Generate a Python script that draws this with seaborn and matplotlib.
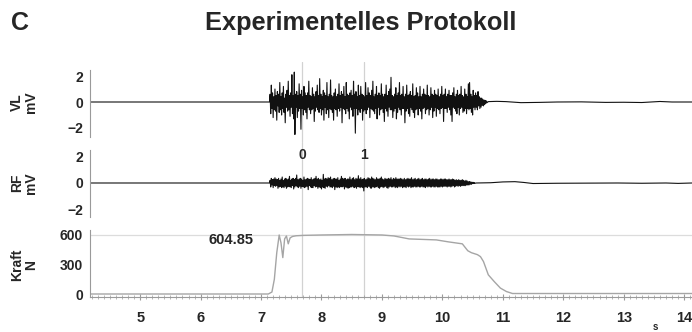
import numpy as np
import pandas as pd
import matplotlib
matplotlib.use("Agg")
import matplotlib.pyplot as plt
import seaborn as sns
from matplotlib.ticker import MultipleLocator, FixedLocator

# ---------------- data ----------------
title = "Experimentelles Protokoll"
panel_letter = "C"
x_ticks = [5, 6, 7, 8, 9, 10, 11, 12, 13, 14]
marker_times = [7.68, 8.70]
marker_labels = ["0", "1"]
peak_label = "604.85"
peak_value = 600

sample_step = 0.01

# VL (mV)
vl_pre_t = [4.17, 7.14]
vl_pre_v = [0.0, 0.0]
vl_burst_start = 7.15
vl_burst = [
    0.6, -0.9, 1.3, -0.5, 0.7, -1.2, 0.4, -0.6, 1.0, -0.7,
    0.5, -1.4, 0.8, -0.3, 0.6, -0.8, 1.5, -0.6, 0.4, -1.0,
    0.7, -0.5, 1.2, -0.8, 0.3, -1.6, 0.6, -0.4, 0.9, -0.7,
    1.6, -0.6, 0.5, -1.1, 0.7, -0.4, 2.1, -0.9, 0.5, -1.3,
    2.3, -2.5, 0.6, -0.4, 0.8, -1.2, 0.5, -0.7, 1.4, -0.5,
    0.6, -2.1, 0.9, -0.5, 0.4, -1.0, 1.2, -0.6, 0.7, -0.8,
    0.5, -1.3, 0.7, -0.4, 1.6, -0.6, 0.5, -0.9, 0.4, -0.6,
    1.1, -0.5, 0.6, -1.5, 0.4, -0.7, 0.8, -0.4, 1.3, -0.6,
    0.5, -0.8, 1.8, -0.5, 0.6, -1.0, 0.4, -0.6, 0.9, -1.4,
    0.7, -0.4, 0.5, -0.9, 1.5, -0.6, 0.4, -1.2, 0.6, -0.5,
    1.7, -0.6, 0.5, -0.8, 0.4, -1.4, 0.7, -0.5, 1.0, -0.6,
    0.4, -1.1, 0.6, -0.5, 1.4, -0.7, 0.5, -0.4, 0.8, -1.6,
    0.6, -0.5, 1.2, -0.6, 0.4, -0.9, 1.5, -0.5, 0.6, -0.7,
    0.5, -1.3, 0.7, -0.4, 0.9, -0.6, 0.5, -1.1, 1.6, -0.5,
    0.6, -2.4, 0.8, -0.5, 0.4, -1.0, 1.3, -0.6, 0.5, -0.8,
    1.2, -0.5, 0.6, -1.4, 0.5, -0.7, 0.4, -0.6, 1.5, -0.9,
    0.5, -0.6, 1.1, -0.4, 0.7, -1.2, 0.5, -0.5, 0.9, -0.6,
    1.6, -0.7, 0.4, -0.9, 0.6, -0.5, 1.2, -1.3, 0.5, -0.4,
    0.7, -1.0, 0.5, -0.6, 1.4, -0.5, 0.6, -0.8, 0.4, -1.5,
    0.6, -0.5, 1.3, -0.7, 0.5, -1.1, 0.8, -0.4, 1.0, -0.6,
    1.9, -0.6, 0.5, -1.2, 0.4, -0.7, 0.6, -0.5, 1.1, -1.3,
    0.5, -0.8, 0.7, -0.4, 1.5, -0.6, 0.5, -1.0, 0.6, -0.5,
    1.2, -0.5, 0.4, -1.6, 0.6, -0.7, 1.3, -0.5, 0.5, -0.9,
    0.6, -1.1, 0.8, -0.4, 0.5, -0.6, 1.4, -0.8, 0.4, -1.2,
    0.5, -0.6, 1.1, -0.5, 0.7, -1.0, 0.4, -0.5, 1.2, -0.7,
    0.4, -1.3, 0.6, -0.5, 1.0, -0.4, 0.6, -0.9, 0.5, -0.6,
    1.3, -0.5, 0.5, -1.0, 0.4, -0.6, 1.1, -0.4, 0.6, -1.2,
    0.5, -0.7, 0.9, -0.4, 0.6, -1.1, 0.5, -0.5, 1.0, -0.6,
    0.4, -0.9, 0.6, -0.5, 1.2, -0.4, 0.5, -1.5, 0.6, -0.5,
    1.0, -0.5, 0.4, -0.8, 0.6, -0.4, 0.9, -0.6, 0.5, -1.0,
    0.5, -1.5, 0.7, -0.4, 1.1, -0.5, 0.4, -0.7, 0.6, -0.9,
    0.9, -0.4, 0.5, -1.0, 0.6, -0.5, 1.2, -0.4, 0.5, -0.8,
    0.4, -0.7, 1.0, -0.5, 0.6, -0.9, 0.4, -0.5, 1.4, -0.6,
    1.5, -0.5, 0.6, -0.8, 0.4, -1.0, 0.9, -0.4, 0.5, -0.6,
    0.7, -0.4, 0.5, -0.6, 0.8, -0.3, 0.4, -0.5, 0.3, -0.4,
    0.3, -0.25, 0.2, -0.3, 0.15, -0.2, 0.12, -0.1, 0.08, -0.05,
]
vl_tail_t = [10.76, 10.9, 11.05, 11.3, 11.6, 11.9, 12.3, 12.7, 13.0, 13.3, 13.6, 13.8, 14.13]
vl_tail_v = [0.03, 0.05, 0.03, -0.05, -0.03, 0.0, 0.01, -0.03, -0.02, -0.04, 0.04, 0.0, 0.0]

# RF (mV)
rf_pre_t = [4.17, 7.14]
rf_pre_v = [0.0, 0.0]
rf_burst_start = 7.15
rf_burst = [
    0.2, -0.3, 0.35, -0.15, 0.25, -0.35, 0.3, -0.2, 0.4, -0.25,
    0.3, -0.2, 0.25, -0.4, 0.35, -0.3, 0.2, -0.25, 0.3, -0.35,
    0.45, -0.3, 0.2, -0.35, 0.3, -0.25, 0.35, -0.4, 0.25, -0.3,
    0.3, -0.25, 0.5, -0.3, 0.2, -0.35, 0.3, -0.2, 0.35, -0.45,
    0.25, -0.3, 0.35, -0.2, 0.6, -0.3, 0.25, -0.35, 0.3, -0.25,
    0.35, -0.4, 0.3, -0.25, 0.2, -0.3, 0.45, -0.35, 0.25, -0.3,
    0.3, -0.25, 0.35, -0.5, 0.3, -0.2, 0.25, -0.3, 0.4, -0.35,
    0.25, -0.35, 0.3, -0.2, 0.35, -0.3, 0.5, -0.25, 0.3, -0.4,
    0.35, -0.3, 0.25, -0.35, 0.3, -0.45, 0.2, -0.3, 0.65, -0.35,
    0.3, -0.4, 0.35, -0.25, 0.3, -0.3, 0.4, -0.2, 0.35, -0.3,
    0.45, -0.3, 0.25, -0.35, 0.3, -0.25, 0.35, -0.5, 0.3, -0.3,
    0.3, -0.35, 0.4, -0.3, 0.2, -0.35, 0.3, -0.25, 0.5, -0.3,
    0.35, -0.25, 0.3, -0.45, 0.35, -0.3, 0.25, -0.35, 0.3, -0.4,
    0.3, -0.35, 0.45, -0.3, 0.25, -0.3, 0.35, -0.25, 0.4, -0.35,
    0.25, -0.3, 0.35, -0.4, 0.3, -0.25, 0.55, -0.3, 0.3, -0.35,
    0.4, -0.3, 0.25, -0.35, 0.3, -0.6, 0.35, -0.3, 0.25, -0.3,
    0.3, -0.35, 0.4, -0.25, 0.35, -0.3, 0.3, -0.4, 0.45, -0.3,
    0.35, -0.3, 0.3, -0.35, 0.25, -0.3, 0.4, -0.25, 0.3, -0.35,
    0.3, -0.4, 0.35, -0.3, 0.45, -0.25, 0.3, -0.35, 0.25, -0.3,
    0.35, -0.25, 0.3, -0.35, 0.3, -0.4, 0.35, -0.3, 0.3, -0.25,
    0.4, -0.3, 0.25, -0.3, 0.35, -0.25, 0.3, -0.35, 0.4, -0.3,
    0.3, -0.35, 0.3, -0.25, 0.3, -0.3, 0.35, -0.25, 0.3, -0.35,
    0.25, -0.3, 0.35, -0.3, 0.25, -0.35, 0.3, -0.25, 0.35, -0.3,
    0.3, -0.25, 0.3, -0.35, 0.4, -0.3, 0.25, -0.3, 0.3, -0.25,
    0.35, -0.3, 0.25, -0.3, 0.3, -0.25, 0.35, -0.3, 0.25, -0.3,
    0.3, -0.25, 0.35, -0.3, 0.25, -0.3, 0.3, -0.35, 0.3, -0.25,
    0.25, -0.3, 0.3, -0.25, 0.35, -0.3, 0.25, -0.3, 0.3, -0.25,
    0.3, -0.3, 0.25, -0.3, 0.3, -0.25, 0.3, -0.3, 0.25, -0.3,
    0.25, -0.3, 0.3, -0.25, 0.3, -0.3, 0.25, -0.25, 0.3, -0.25,
    0.3, -0.25, 0.25, -0.3, 0.25, -0.25, 0.3, -0.25, 0.25, -0.3,
    0.25, -0.25, 0.3, -0.2, 0.25, -0.3, 0.2, -0.25, 0.25, -0.2,
    0.2, -0.25, 0.25, -0.2, 0.2, -0.25, 0.2, -0.2, 0.25, -0.2,
    0.2, -0.2, 0.15, -0.2, 0.2, -0.15, 0.15, -0.15, 0.1, -0.15,
    0.1, -0.1, 0.08, -0.1, 0.06, -0.05, 0.05, -0.04, 0.03, -0.02,
]
rf_tail_t = [10.56, 10.8, 11.0, 11.2, 11.35, 11.5, 11.9, 12.4, 12.9, 13.3, 13.7, 13.9, 14.13]
rf_tail_v = [0.0, 0.02, 0.08, 0.1, 0.04, -0.04, -0.02, -0.01, 0.0, -0.02, 0.0, -0.03, 0.0]

# Kraft (N)
kraft_t = [4.17, 7.12, 7.18, 7.22, 7.26, 7.30, 7.33, 7.36, 7.39, 7.42, 7.45, 7.48,
           7.52, 7.58, 7.7, 8.0, 8.5, 9.0, 9.2, 9.45, 9.9, 10.1, 10.33, 10.42,
           10.48, 10.58, 10.63, 10.68, 10.76, 10.86, 10.96, 11.06, 11.16, 14.13]
kraft_v = [0, 0, 20, 150, 420, 600, 520, 370, 560, 590, 510, 570,
           585, 592, 596, 600, 605, 600, 590, 560, 550, 530, 510, 440,
           420, 400, 380, 330, 195, 125, 60, 25, 5, 5]

# ---------------- assemble ----------------
def build(pre_t, pre_v, start, burst, tail_t, tail_v):
    bt = start + sample_step * np.arange(len(burst))
    t = np.concatenate([pre_t, bt, tail_t])
    v = np.concatenate([pre_v, burst, tail_v])
    return pd.DataFrame({"t": t, "v": v})

vl_df = build(vl_pre_t, vl_pre_v, vl_burst_start, vl_burst, vl_tail_t, vl_tail_v)
rf_df = build(rf_pre_t, rf_pre_v, rf_burst_start, rf_burst, rf_tail_t, rf_tail_v)
kraft_df = pd.DataFrame({"t": kraft_t, "v": kraft_v})

sns.set_style("white")
plt.rcParams["font.family"] = ["Liberation Sans", "DejaVu Sans"]
plt.rcParams["font.weight"] = "bold"

W, H = 692, 332
fig = plt.figure(figsize=(W / 100, H / 100), dpi=100)

def fx(px):
    return px / W

def fy(py):
    return 1 - py / H

left = fx(90)
width = 1 - left
XL = (4.17, 14.13)
spine_col = "#9a9a9a"

ax_vl = fig.add_axes([left, fy(142), width, (142 - 62) / H])
ax_rf = fig.add_axes([left, fy(222), width, (222 - 142) / H])
ax_kr = fig.add_axes([left, fy(297), width, (297 - 222) / H])

sns.lineplot(data=vl_df, x="t", y="v", ax=ax_vl, color="#111111", lw=0.8,
             estimator=None, sort=False)
sns.lineplot(data=rf_df, x="t", y="v", ax=ax_rf, color="#111111", lw=0.8,
             estimator=None, sort=False)
ax_kr.axhline(peak_value, color="#dcdcdc", lw=0.9, zorder=0)
sns.lineplot(data=kraft_df, x="t", y="v", ax=ax_kr, color="#a5a5a5", lw=1.0,
             estimator=None, sort=False)

for ax in (ax_vl, ax_rf, ax_kr):
    ax.set_facecolor("none")
    ax.set_xlim(*XL)
    for s in ("top", "right"):
        ax.spines[s].set_visible(False)
    ax.spines["left"].set_color(spine_col)
    ax.spines["left"].set_linewidth(0.8)
    ax.tick_params(axis="y", which="major", length=4, width=0.8, color=spine_col,
                   labelsize=10, pad=1, direction="out")
    ax.tick_params(axis="y", which="minor", length=2, width=0.5, color=spine_col,
                   direction="out")
    for t in marker_times:
        ax.axvline(t, color="#d2d2d2", lw=0.9, zorder=0)
    ax.set_xlabel("")
    ax.set_ylabel("")

for ax in (ax_vl, ax_rf):
    ax.spines["bottom"].set_visible(False)
    ax.set_xticks([])

ax_vl.set_ylim(-3.08, 3.08)
ax_vl.spines["left"].set_bounds(-2.7, 2.46)
ax_vl.yaxis.set_major_locator(FixedLocator([-2, 0, 2]))
ax_vl.yaxis.set_minor_locator(MultipleLocator(0.25))

ax_rf.set_ylim(-2.94, 3.09)
ax_rf.spines["left"].set_bounds(-2.57, 2.49)
ax_rf.yaxis.set_major_locator(FixedLocator([-2, 0, 2]))
ax_rf.yaxis.set_minor_locator(MultipleLocator(0.25))

ax_kr.set_ylim(-30.5, 732)
ax_kr.spines["left"].set_bounds(-30.5, 651)
ax_kr.yaxis.set_major_locator(FixedLocator([0, 300, 600]))
ax_kr.yaxis.set_minor_locator(MultipleLocator(50))
ax_kr.spines["bottom"].set_color(spine_col)
ax_kr.spines["bottom"].set_linewidth(0.8)
ax_kr.xaxis.set_major_locator(FixedLocator(x_ticks))
ax_kr.xaxis.set_minor_locator(MultipleLocator(0.1))
ax_kr.tick_params(axis="x", which="major", length=4, width=0.8, color=spine_col,
                  labelsize=10.5, pad=8, direction="inout", bottom=True)
ax_kr.tick_params(axis="x", which="minor", length=3, width=0.5, color=spine_col,
                  direction="inout", bottom=True)
ax_kr.set_xticklabels([str(v) for v in x_ticks], fontweight="bold")

for ax in (ax_vl, ax_rf, ax_kr):
    for lab in ax.get_yticklabels():
        lab.set_fontweight("bold")

# marker labels
for t, lab in zip(marker_times, marker_labels):
    ax_rf.text(t, 2.1, lab, ha="center", va="center", fontsize=10, fontweight="bold")

ax_kr.text(6.87, 549, peak_label, ha="right", va="center", fontsize=10.5,
           fontweight="bold")

# channel labels
for text, py in (("VL\nmV", 102), ("RF\nmV", 183), ("Kraft\nN", 265)):
    fig.text(fx(24), fy(py), text, rotation=90, ha="center", va="center",
             fontsize=10, fontweight="bold", linespacing=0.95,
             multialignment="center")

fig.text(fx(361), fy(23), title, ha="center", va="center", fontsize=18.3,
         fontweight="bold")
fig.text(fx(11), fy(23), panel_letter, ha="left", va="center", fontsize=18,
         fontweight="bold")
fig.text(fx(655), fy(331.5), "s", ha="center", va="bottom", fontsize=7, fontweight="bold")

fig.savefig("out.png", dpi=100)
